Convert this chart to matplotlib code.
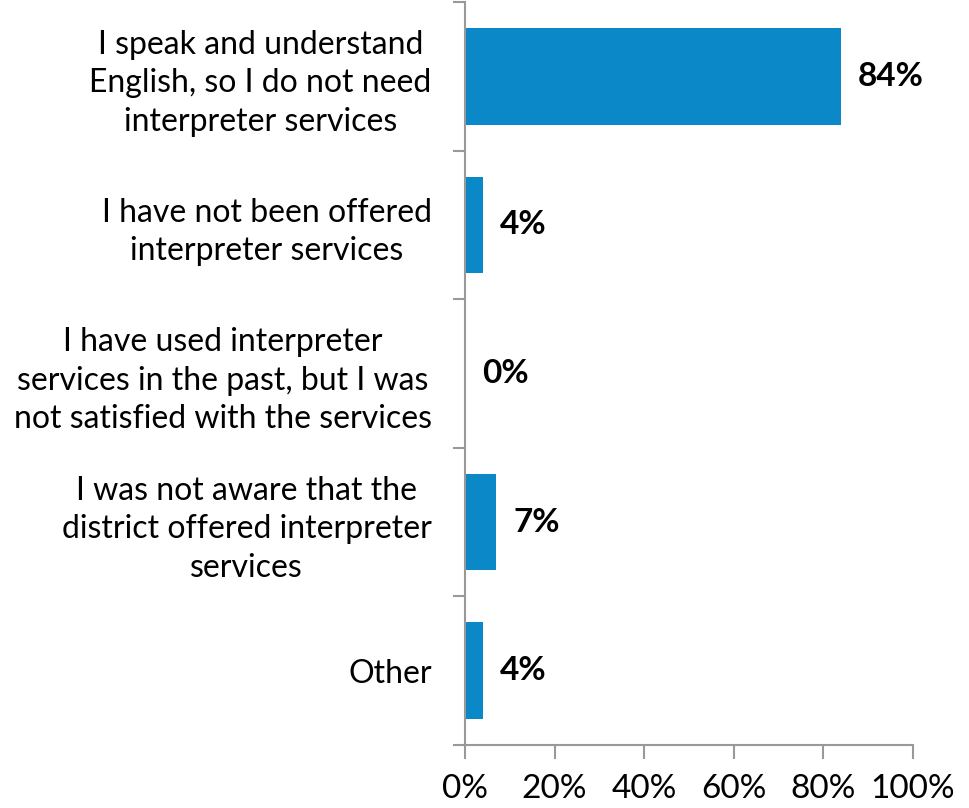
import matplotlib
matplotlib.use("Agg")
import matplotlib.pyplot as plt
from matplotlib.ticker import FixedLocator, NullFormatter

categories = [
    "I speak and understand\nEnglish, so I do not need\ninterpreter services",
    "I have not been offered\ninterpreter services",
    "I have used interpreter\nservices in the past, but I was\nnot satisfied with the services",
    "I was not aware that the\ndistrict offered interpreter\nservices",
    "Other",
]
values = [84, 4, 0, 7, 4]
xticks = [0, 20, 40, 60, 80, 100]
xticklabels = ["0%", "20%", "40%", "60%", "80%", "100%"]

plt.rcParams['font.family'] = ['Lato', 'DejaVu Sans']
fig = plt.figure(figsize=(9.7, 8.08), dpi=100)
ax = fig.add_axes([465/970, 1-745/808, (913-465)/970, (745-2)/808])

bar_color = "#0A88C8"
ypos = list(range(len(categories)))
ax.barh(ypos, values, height=0.65, color=bar_color)
ax.set_ylim(len(categories)-0.5, -0.5)
ax.set_xlim(0, 100)

for y, v in zip(ypos, values):
    ax.annotate(f"{v}%", xy=(v, y), xytext=(12, 0), textcoords="offset points",
                ha="left", va="center", fontsize=24, fontweight="bold", color="black")

ax.set_yticks(ypos)
ax.set_yticklabels(categories, fontsize=23, multialignment="center", linespacing=1.35)
ax.tick_params(axis="y", which="major", length=0, pad=24)
ax.yaxis.set_minor_locator(FixedLocator([i - 0.5 for i in range(len(categories)+1)]))
ax.yaxis.set_minor_formatter(NullFormatter())
ax.tick_params(axis="y", which="minor", length=9, color="#999999", width=1.5)

ax.set_xticks(xticks)
ax.set_xticklabels(xticklabels, fontsize=24)
ax.tick_params(axis="x", length=10, color="#999999", width=1.5, pad=11)

for s in ["top", "right"]:
    ax.spines[s].set_visible(False)
for s in ["left", "bottom"]:
    ax.spines[s].set_color("#999999")
    ax.spines[s].set_linewidth(1.5)

fig.savefig("out.png", dpi=100)
